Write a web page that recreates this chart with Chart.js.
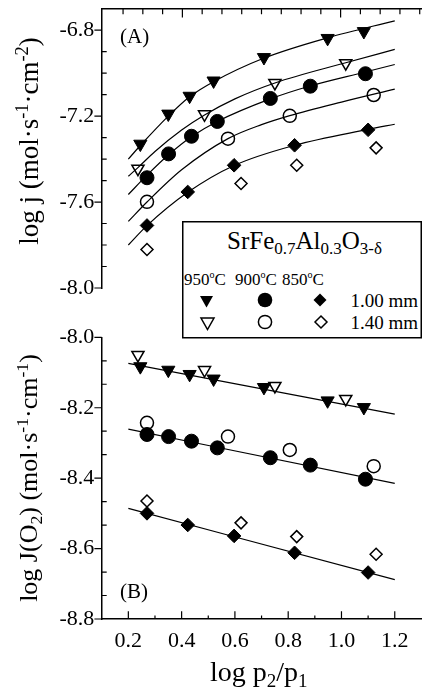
<!DOCTYPE html>
<html>
<head>
<meta charset="utf-8">
<script src="https://cdn.jsdelivr.net/npm/chart.js@4.4.1/dist/chart.umd.min.js"></script>
<style>
  html, body { margin: 0; padding: 0; background: #fff; overflow: hidden; }
  body { position: relative; width: 423px; height: 692px; font-family: "Liberation Serif", "Times New Roman", serif; color: #000; }
  #boxA { position: absolute; left: 0; top: 0; width: 430px; height: 300px; }
  #boxB { position: absolute; left: 0; top: 310px; width: 430px; height: 382px; }
  .title { position: absolute; white-space: nowrap; line-height: 1; }
  .ytitle { transform: translate(-50%, -50%) rotate(-90deg); }
  sup, sub { font-size: 0.68em; line-height: 0; vertical-align: 0; position: relative; }
  sup { top: -0.52em; }
  sub { top: 0.3em; }
  #key { position: absolute; left: 182px; top: 221px; }
  #key text { font-family: "Liberation Serif", "Times New Roman", serif; fill: #000; }
</style>
</head>
<body>
<div id="boxA"><canvas id="graphA"></canvas></div>
<div id="boxB"><canvas id="graphB"></canvas></div>

<div class="title ytitle" style="left:28.5px; top:141px; font-size:27px;">log j (mol·s<sup>-1</sup>·cm<sup>-2</sup>)</div>
<div class="title ytitle" style="left:28.8px; top:478px; font-size:26px;">log J(O<sub>2</sub>) (mol·s<sup>-1</sup>·cm<sup>-1</sup>)</div>
<div class="title" style="left:210px; top:658px; font-size:28px;">log p<sub>2</sub>/p<sub>1</sub></div>
<div class="title" style="left:120px; top:26.4px; font-size:21px;">(A)</div>
<div class="title" style="left:120px; top:580.7px; font-size:21px;">(B)</div>

<svg id="key" width="240" height="118">
  <rect x="0.75" y="0.75" width="238.5" height="116" fill="#fff" stroke="#000" stroke-width="1.5"/>
  <text x="45" y="28" font-size="25">SrFe<tspan dy="5" font-size="17">0.7</tspan><tspan dy="-5">Al</tspan><tspan dy="5" font-size="17">0.3</tspan><tspan dy="-5">O</tspan><tspan dy="5" font-size="17">3-δ</tspan></text>
  <text x="2" y="63.5" font-size="17">950<tspan dy="-7" font-size="10">o</tspan><tspan dy="7">C</tspan></text>
  <text x="53" y="63.5" font-size="17">900<tspan dy="-7" font-size="10">o</tspan><tspan dy="7">C</tspan></text>
  <text x="100" y="63.5" font-size="17">850<tspan dy="-7" font-size="10">o</tspan><tspan dy="7">C</tspan></text>
  <polygon points="18,75 31,75 24.5,86.5" fill="#000"/>
  <circle cx="83" cy="79" r="7.3" fill="#000"/>
  <polygon points="138,72.5 144.5,79 138,85.5 131.5,79" fill="#000"/>
  <text x="168.5" y="85.5" font-size="19">1.00 mm</text>
  <polygon points="19,97 32,97 25.5,108.5" fill="#fff" stroke="#000" stroke-width="1.5"/>
  <circle cx="83" cy="101" r="6.6" fill="#fff" stroke="#000" stroke-width="1.5"/>
  <polygon points="139,95 145,101 139,107 133,101" fill="#fff" stroke="#000" stroke-width="1.5"/>
  <text x="168.5" y="107.5" font-size="19">1.40 mm</text>
</svg>

<script>
/* ---------------- données : log p2/p1 et flux ---------------- */

// 950 °C, 1.00 mm (filled triangles)
const xTri = [0.245, 0.35, 0.43, 0.52, 0.709, 0.948, 1.084];
const jTri = [-7.33, -7.19, -7.107, -7.036, -6.927, -6.838, -6.806];
const JTri = [-8.083, -8.093, -8.105, -8.118, -8.142, -8.180, -8.199];
// 950 °C, 1.40 mm (open triangles)
const xTriO = [0.236, 0.486, 0.75, 1.016];
const jTriO = [-7.445, -7.192, -7.046, -6.954];
const JTriO = [-8.050, -8.093, -8.138, -8.175];
// 900 °C, 1.00 mm (filled circles)
const xCirc = [0.27, 0.351, 0.437, 0.534, 0.733, 0.883, 1.09];
const jCirc = [-7.487, -7.376, -7.294, -7.225, -7.118, -7.061, -7.003];
const JCirc = [-8.276, -8.282, -8.295, -8.314, -8.342, -8.363, -8.403];
// 900 °C, 1.40 mm (open circles)
const xCircO = [0.27, 0.574, 0.806, 1.121];
const jCircO = [-7.599, -7.305, -7.199, -7.102];
const JCircO = [-8.243, -8.282, -8.320, -8.366];
// 850 °C, 1.00 mm (filled diamonds)
const xDia = [0.27, 0.423, 0.597, 0.824, 1.10];
const jDia = [-7.709, -7.553, -7.429, -7.336, -7.264];
const JDia = [-8.500, -8.533, -8.564, -8.612, -8.668];
// 850 °C, 1.40 mm (open diamonds)
const xDiaO = [0.27, 0.623, 0.832, 1.13];
const jDiaO = [-7.821, -7.514, -7.429, -7.348];
const JDiaO = [-8.465, -8.527, -8.566, -8.616];

/* fitted curves, panel A */
const fitX1 = [0.2, 0.25, 0.35, 0.43, 0.52, 0.71, 0.95, 1.2];
const fitY1 = [-7.40, -7.33, -7.20, -7.11, -7.04, -6.93, -6.835, -6.757];
const fitX2 = [0.2, 0.236, 0.3, 0.4, 0.486, 0.6, 0.75, 1.016, 1.2];
const fitY2 = [-7.48, -7.44, -7.365, -7.265, -7.195, -7.12, -7.046, -6.952, -6.89];
const fitX3 = [0.2, 0.27, 0.351, 0.438, 0.534, 0.733, 0.882, 1.089, 1.2];
const fitY3 = [-7.565, -7.475, -7.38, -7.295, -7.225, -7.12, -7.06, -6.995, -6.96];
const fitX4 = [0.2, 0.27, 0.4, 0.574, 0.7, 0.806, 1.0, 1.2];
const fitY4 = [-7.69, -7.60, -7.45, -7.305, -7.24, -7.198, -7.135, -7.075];
const fitX5 = [0.2, 0.27, 0.423, 0.597, 0.824, 1.1, 1.2];
const fitY5 = [-7.80, -7.71, -7.555, -7.43, -7.336, -7.262, -7.238];

/* fitted lines, panel B */
const lineX = [0.2, 1.2];
const lineTri = [-8.074, -8.218];
const lineCirc = [-8.261, -8.415];
const lineDia = [-8.486, -8.688];

/* axes */
const xTicks = [0.2, 0.4, 0.6, 0.8, 1.0, 1.2];
const xMinor = [0.3, 0.5, 0.7, 0.9, 1.1];
const yTicksA = [-8.0, -7.6, -7.2, -6.8];
const yMinorA = [-7.9, -7.8, -7.7, -7.5, -7.4, -7.3, -7.1, -7.0, -6.9];
const yTicksB = [-8.8, -8.6, -8.4, -8.2, -8.0];
const yMinorB = [-8.7333, -8.6667, -8.5333, -8.4667, -8.3333, -8.2667, -8.1333, -8.0667];
const topTicks = [0, 1, 2, 4, 5, 6, 7, 8, 9, 10, 12, 13, 14, 15];
const topMajor = [3, 11];

/* ---------------- helpers ---------------- */

const pts = (xs, ys) => xs.map((x, i) => ({ x: x, y: ys[i] }));
const FONT = "Liberation Serif";

function marker(xs, ys, style, filled, r) {
  return {
    data: pts(xs, ys),
    showLine: false,
    pointStyle: style,
    pointRotation: style === 'triangle' ? 180 : 0,
    pointRadius: r,
    pointBackgroundColor: filled ? '#000' : '#fff',
    pointBorderColor: '#000',
    pointBorderWidth: filled ? 1 : 1.5
  };
}

function fit(xs, ys) {
  return {
    data: pts(xs, ys),
    showLine: true,
    pointRadius: 0,
    borderColor: '#000',
    borderWidth: 1.2,
    cubicInterpolationMode: 'monotone',
    fill: false
  };
}

function noPad(s) {
  s.paddingTop = 0; s.paddingBottom = 0; s.paddingLeft = 0; s.paddingRight = 0;
}

// petits traits de graduation (inward / outward) posés sur les axes
const tickMarks = {
  id: 'tickMarks',
  afterDraw(chart, args, opts) {
    const ctx = chart.ctx;
    const a = chart.chartArea;
    ctx.save();
    ctx.strokeStyle = '#000';
    ctx.lineWidth = 1.2;
    ctx.beginPath();
    for (const m of opts.marks) {
      const s = chart.scales[m.scale];
      for (const v of m.values) {
        const p = s.getPixelForValue(v);
        if (m.edge === 'left') { ctx.moveTo(a.left + m.from, p); ctx.lineTo(a.left + m.to, p); }
        else if (m.edge === 'top') { ctx.moveTo(p, a.top + m.from); ctx.lineTo(p, a.top + m.to); }
        else { ctx.moveTo(p, a.bottom - m.from); ctx.lineTo(p, a.bottom - m.to); }
      }
    }
    ctx.stroke();
    ctx.restore();
  }
};

const axisBorder = { display: true, color: '#000', width: 1.5 };
const tickFont = { family: FONT, size: 22 };

/* ---------------- graph A : log j ---------------- */

const chartA = new Chart(document.getElementById("graphA"), {
  type: 'scatter',
  data: {
    datasets: [
      fit(fitX1, fitY1), fit(fitX2, fitY2), fit(fitX3, fitY3), fit(fitX4, fitY4), fit(fitX5, fitY5),
      marker(xTri, jTri, 'triangle', true, 7.6),
      marker(xTriO, jTriO, 'triangle', false, 7),
      marker(xCirc, jCirc, 'circle', true, 7),
      marker(xCircO, jCircO, 'circle', false, 6.5),
      marker(xDia, jDia, 'rectRot', true, 6.8),
      marker(xDiaO, jDiaO, 'rectRot', false, 6)
    ]
  },
  options: {
    responsive: true,
    maintainAspectRatio: false,
    animation: false,
    layout: { padding: { top: 6, right: 5, bottom: 12, left: 0 } },
    plugins: {
      legend: { display: false },
      tooltip: { enabled: false },
      tickMarks: {
        marks: [
          { scale: 'y', edge: 'left', values: yTicksA, from: -7.3, to: 0 },
          { scale: 'y', edge: 'left', values: yMinorA, from: 0, to: 5 },
          { scale: 'xTop', edge: 'top', values: topTicks, from: 0, to: 5.7 },
          { scale: 'xTop', edge: 'top', values: topMajor, from: 0, to: 9 }
        ]
      }
    },
    scales: {
      x: { type: 'linear', display: false, min: 0.1, max: 1.3 },
      xTop: {
        type: 'linear', position: 'top', min: -1.08, max: 15.085,
        ticks: { display: false }, grid: { display: false, drawTicks: false },
        border: axisBorder,
        afterFit: s => { s.height = 0; noPad(s); }
      },
      y: {
        type: 'linear', min: -8.0, max: -6.7,
        afterBuildTicks: s => { s.ticks = yTicksA.map(v => ({ value: v })); },
        ticks: { font: tickFont, color: '#000', padding: 7.4, callback: v => v.toFixed(1) },
        grid: { display: false, drawTicks: false },
        border: axisBorder,
        afterFit: s => { s.width = 101.7; noPad(s); }
      }
    }
  },
  plugins: [tickMarks]
});

/* ---------------- graph B : log J(O2) ---------------- */

const chartB = new Chart(document.getElementById("graphB"), {
  type: 'scatter',
  data: {
    datasets: [
      fit(lineX, lineTri), fit(lineX, lineCirc), fit(lineX, lineDia),
      marker(xTri, JTri, 'triangle', true, 7.6),
      marker(xTriO, JTriO, 'triangle', false, 7),
      marker(xCirc, JCirc, 'circle', true, 7),
      marker(xCircO, JCircO, 'circle', false, 6.5),
      marker(xDia, JDia, 'rectRot', true, 6.8),
      marker(xDiaO, JDiaO, 'rectRot', false, 6)
    ]
  },
  options: {
    responsive: true,
    maintainAspectRatio: false,
    animation: false,
    layout: { padding: { top: 27.3, right: 5, bottom: 0, left: 0 } },
    plugins: {
      legend: { display: false },
      tooltip: { enabled: false },
      tickMarks: {
        marks: [
          { scale: 'y', edge: 'left', values: yTicksB, from: -7.3, to: 0 },
          { scale: 'y', edge: 'left', values: yMinorB, from: 0, to: 5 },
          { scale: 'x', edge: 'bottom', values: xTicks, from: 0, to: 7.7 },
          { scale: 'x', edge: 'bottom', values: xMinor, from: 0, to: 3.5 }
        ]
      }
    },
    scales: {
      x: {
        type: 'linear', position: 'bottom', min: 0.1, max: 1.3,
        afterBuildTicks: s => { s.ticks = xTicks.map(v => ({ value: v })); },
        ticks: { font: tickFont, color: '#000', padding: 9.5, maxRotation: 0, callback: v => v.toFixed(1) },
        grid: { display: false, drawTicks: false },
        border: axisBorder,
        afterFit: s => { s.height = 73; noPad(s); }
      },
      y: {
        type: 'linear', min: -8.8, max: -8.0,
        afterBuildTicks: s => { s.ticks = yTicksB.map(v => ({ value: v })); },
        ticks: { font: tickFont, color: '#000', padding: 7.4, callback: v => v.toFixed(1) },
        grid: { display: false, drawTicks: false },
        border: axisBorder,
        afterFit: s => { s.width = 101.7; noPad(s); }
      }
    }
  },
  plugins: [tickMarks]
});
</script>
</body>
</html>
